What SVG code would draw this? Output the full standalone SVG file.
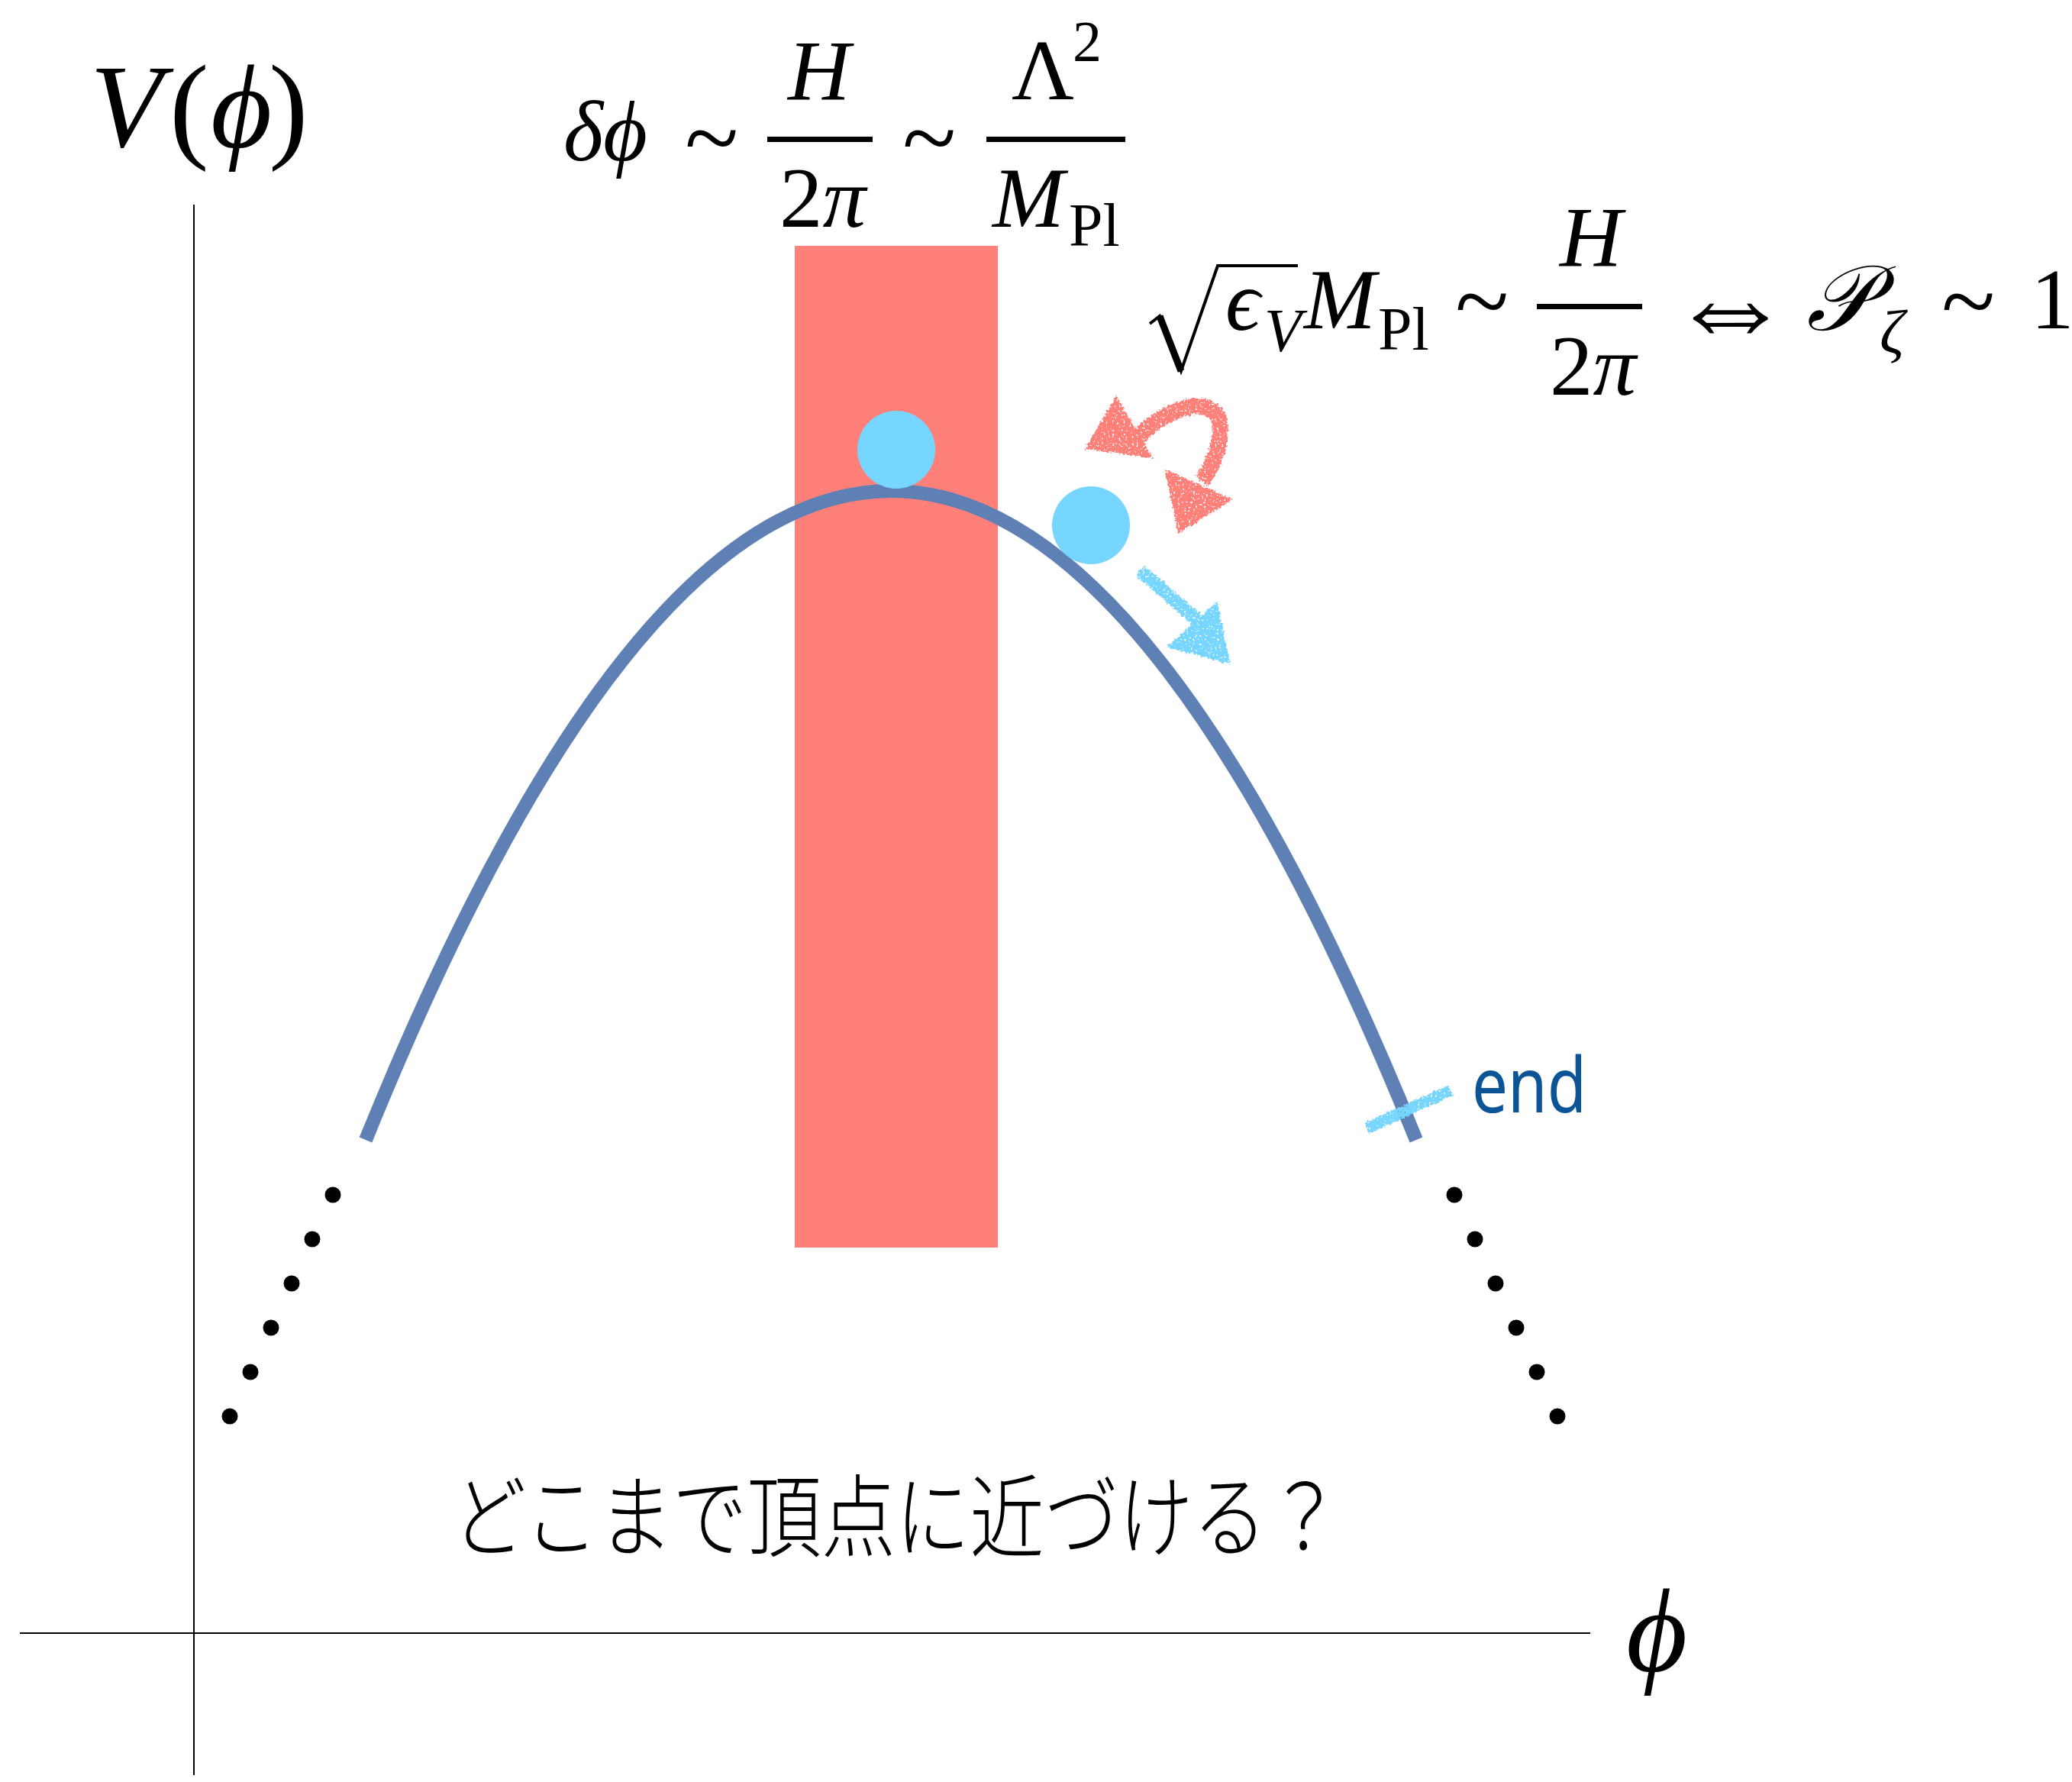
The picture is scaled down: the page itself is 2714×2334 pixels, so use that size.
<svg xmlns="http://www.w3.org/2000/svg" width="2714" height="2334" viewBox="0 0 2714 2334">
<style>
.m{font-family:"Liberation Serif","DejaVu Serif",serif;fill:#000}
.i{font-style:italic}
.axis{stroke:#000;stroke-width:2;fill:none}
.dot{fill:#000}
.ball{fill:#76d6ff}
.red{fill:#ff7f79}
.jp{font-family:"Noto Sans CJK JP","Noto Sans CJK SC",sans-serif;font-weight:300;fill:#000}
</style>
<defs>
<filter id="chalk" x="-30%" y="-30%" width="160%" height="160%">
<feTurbulence type="fractalNoise" baseFrequency="0.3" numOctaves="2" seed="4" result="n"/>
<feDisplacementMap in="SourceGraphic" in2="n" scale="7" xChannelSelector="R" yChannelSelector="G" result="d"/>
<feTurbulence type="fractalNoise" baseFrequency="0.35" numOctaves="2" seed="9" result="t"/>
<feColorMatrix in="t" type="matrix" values="0 0 0 0 0  0 0 0 0 0  0 0 0 0 0  0 0 0 -9 6.6" result="holes"/>
<feComposite in="d" in2="holes" operator="in"/>
</filter>
</defs>
<rect width="2714" height="2334" fill="#fff"/>
<g id="band"><rect class="red" x="1041" y="322" width="266" height="1312"/></g>
<g id="axes">
<line class="axis" x1="254" y1="268" x2="254" y2="2325"/>
<line class="axis" x1="26" y1="2139" x2="2083" y2="2139"/>
</g>
<g id="potential">
<path d="M479,1493 Q1167,-207 1855,1493" fill="none" stroke="#5f80b4" stroke-width="18"/>
</g>
<g id="dots">
<circle class="dot" cx="436" cy="1565" r="10.5"/><circle class="dot" cx="409" cy="1623" r="10.5"/><circle class="dot" cx="382" cy="1681" r="10.5"/><circle class="dot" cx="355" cy="1739" r="10.5"/><circle class="dot" cx="328" cy="1797" r="10.5"/><circle class="dot" cx="301" cy="1855" r="10.5"/>
<circle class="dot" cx="1905" cy="1565" r="10.5"/><circle class="dot" cx="1932" cy="1623" r="10.5"/><circle class="dot" cx="1959" cy="1681" r="10.5"/><circle class="dot" cx="1986" cy="1739" r="10.5"/><circle class="dot" cx="2013" cy="1797" r="10.5"/><circle class="dot" cx="2040" cy="1855" r="10.5"/>
</g>
<g id="balls">
<circle class="ball" cx="1174" cy="589" r="51"/>
<circle class="ball" cx="1429" cy="688" r="51"/>
</g>
<g id="connectors" filter="url(#chalk)">
<g id="red-arrow">
<path d="M1490,574 C1518,542 1568,520 1591,540 C1606,557 1596,602 1574,630" fill="none" stroke="#ff7f79" stroke-width="21"/>
<polygon class="red" points="1462,518 1421,588 1510,600"/>
<polygon class="red" points="1526,615 1615,654 1543,699"/>
</g>
<g id="blue-arrow">
<path d="M1493,747 L1568,812" stroke="#76d6ff" stroke-width="17" fill="none"/>
<polygon class="ball" points="1594,788 1612,870 1528,848"/>
</g>
<path id="end-tick" d="M1790,1478 L1900,1428" stroke="#76d6ff" stroke-width="15" fill="none"/>
</g>
<g id="label-end"><text x="1928" y="1457" font-family="'Noto Sans','Open Sans',sans-serif" font-size="100" fill="#0b5596" textLength="150" lengthAdjust="spacingAndGlyphs">end</text></g>
<g id="label-V">
<text class="m" font-size="155" y="192"><tspan class="i" x="118">V</tspan><tspan x="222">(</tspan><tspan class="i" x="276">ϕ</tspan><tspan x="352">)</tspan></text>
</g>
<g id="label-phi"><text class="m i" font-size="155" x="2130" y="2188">ϕ</text></g>
<g id="formula-1">
<text class="m i" font-size="112" x="738" y="210">δϕ</text>
<text class="m" font-size="130" x="897" y="224">~</text>
<rect x="1005" y="179" width="138" height="7"/>
<text class="m i" font-size="113" x="1032" y="130">H</text>
<text class="m" font-size="113" x="1021" y="297">2<tspan class="i">π</tspan></text>
<text class="m" font-size="130" x="1182" y="224">~</text>
<rect x="1292" y="179" width="182" height="7"/>
<text class="m" font-size="113" x="1325" y="130">Λ</text>
<text class="m" font-size="76" x="1405" y="80">2</text>
<text class="m i" font-size="113" x="1300" y="297">M</text>
<text class="m" font-size="80" x="1400" y="322">Pl</text>
</g>
<g id="formula-2">
<path d="M1506,424 L1519,414 L1547,486 L1595,348 L1700,348" fill="none" stroke="#000" stroke-width="4"/>
<path d="M1519,414 L1547,486" stroke="#000" stroke-width="9"/>
<text class="m i" font-size="113" x="1605" y="432">ϵ</text>
<text class="m i" font-size="80" x="1656" y="460">V</text>
<text class="m i" font-size="113" x="1708" y="430">M</text>
<text class="m" font-size="80" x="1805" y="458">Pl</text>
<text class="m" font-size="130" x="1906" y="438">~</text>
<rect x="2013" y="398" width="138" height="7"/>
<text class="m i" font-size="113" x="2043" y="348">H</text>
<text class="m" font-size="113" x="2030" y="517">2<tspan class="i">π</tspan></text>
<text class="m" font-size="165" x="2184" y="455">⇔</text>
<text class="m i" font-size="120" x="2366" y="432">𝒫</text>
<text class="m i" font-size="80" x="2462" y="462">ζ</text>
<text class="m" font-size="130" x="2543" y="438">~</text>
<text class="m" font-size="113" x="2660" y="430">1</text>
</g>
<g id="question"><text class="jp" font-size="118" x="592" y="2030" textLength="1165" lengthAdjust="spacingAndGlyphs">どこまで頂点に近づける？</text></g>
</svg>
